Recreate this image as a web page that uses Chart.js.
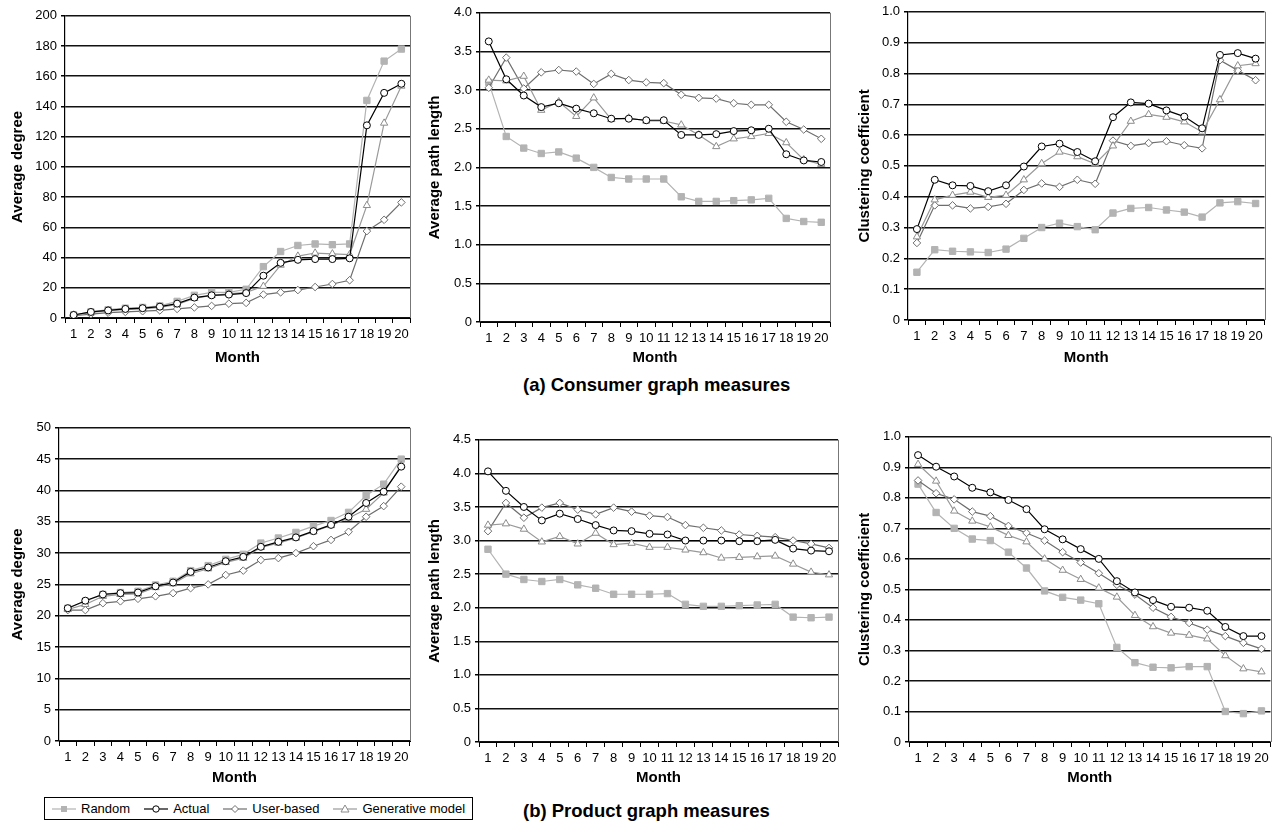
<!DOCTYPE html>
<html>
<head>
<meta charset="utf-8">
<title>Graph measures</title>
<script src="https://cdn.jsdelivr.net/npm/chart.js@4.4.1/dist/chart.umd.min.js"></script>
<style>
    html, body { margin: 0; padding: 0; background: #fff; }
    body { width: 1276px; height: 821px; position: relative; overflow: hidden; font-family: "Liberation Sans", Arial, sans-serif; }
    .panel { position: absolute; }
    .caption { position: absolute; font-weight: bold; font-size: 18.5px; line-height: 22px; color: #000; white-space: nowrap; }
    #legend { position: absolute; left: 44px; top: 797px; width: 429px; height: 23px; box-sizing: border-box;
              border: 1px solid #000; display: flex; align-items: center; padding-left: 7px; font-size: 13px; color: #000;
              white-space: nowrap; }
    #legend .item { display: flex; align-items: center; margin-right: 14px; flex-shrink: 0; white-space: nowrap; }
    #legend svg { margin-right: 5px; flex-shrink: 0; }
</style>
</head>
<body>

<div class="caption" style="left:523px; top:374px;">(a) Consumer graph measures</div>
<div class="caption" style="left:523px; top:800px;">(b) Product graph measures</div>

<div id="legend">
    <div class="item"><svg width="24" height="12"><line x1="0" y1="6" x2="24" y2="6" stroke="#b3b3b3" stroke-width="1.2"/><rect x="9" y="3" width="6" height="6" fill="#b3b3b3"/></svg>Random</div>
    <div class="item"><svg width="24" height="12"><line x1="0" y1="6" x2="24" y2="6" stroke="#000" stroke-width="1.2"/><circle cx="12" cy="6" r="3.2" fill="#fff" stroke="#000"/></svg>Actual</div>
    <div class="item"><svg width="24" height="12"><line x1="0" y1="6" x2="24" y2="6" stroke="#6e6e6e" stroke-width="1.2"/><polygon points="12,2.5 15.5,6 12,9.5 8.5,6" fill="#fff" stroke="#6e6e6e"/></svg>User-based</div>
    <div class="item"><svg width="24" height="12"><line x1="0" y1="6" x2="24" y2="6" stroke="#999" stroke-width="1.2"/><polygon points="12,2 16,9 8,9" fill="#fff" stroke="#8c8c8c"/></svg>Generative model</div>
</div>

<div class="panel" id="p1"><canvas id="c1"></canvas></div>
<div class="panel" id="p2"><canvas id="c2"></canvas></div>
<div class="panel" id="p3"><canvas id="c3"></canvas></div>
<div class="panel" id="p4"><canvas id="c4"></canvas></div>
<div class="panel" id="p5"><canvas id="c5"></canvas></div>
<div class="panel" id="p6"><canvas id="c6"></canvas></div>

<script>
const months = ['1', '2', '3', '4', '5', '6', '7', '8', '9', '10', '11', '12', '13', '14', '15', '16', '17', '18', '19', '20'];
const seriesNames = ['Random', 'Actual', 'User-based', 'Generative model'];

// (a) consumer graph
const consumerDegreeRandom = [2, 4, 5.5, 6.5, 7, 8, 11, 15, 17, 17, 19, 34, 44, 48, 49, 48.5, 49, 144, 170, 178];
const consumerDegreeActual = [2, 4, 5, 6, 6.5, 7.5, 9.5, 13.5, 15, 15.5, 16.5, 28, 36.5, 38.5, 39, 39, 39.5, 127.5, 149, 155];
const consumerDegreeUser = [1.5, 2.5, 3.5, 4, 4.5, 5, 6, 7, 8, 9.5, 10, 15.5, 17, 18.5, 20.5, 22.5, 25, 57.5, 65, 76.5];
const consumerDegreeGen = [2, 3.5, 5, 5.5, 6, 7, 9, 13, 15, 16, 17, 21, 35, 41, 43, 42.5, 42, 74.5, 129, 153.5];

const consumerPathRandom = [3.1, 2.4, 2.25, 2.18, 2.2, 2.12, 2.0, 1.87, 1.85, 1.85, 1.85, 1.62, 1.56, 1.56, 1.57, 1.58, 1.6, 1.34, 1.3, 1.29];
const consumerPathActual = [3.63, 3.14, 2.93, 2.78, 2.83, 2.76, 2.7, 2.63, 2.63, 2.61, 2.61, 2.42, 2.42, 2.43, 2.47, 2.48, 2.5, 2.17, 2.09, 2.07];
const consumerPathUser = [3.03, 3.42, 3.02, 3.23, 3.26, 3.24, 3.08, 3.21, 3.13, 3.1, 3.09, 2.94, 2.9, 2.89, 2.83, 2.81, 2.81, 2.59, 2.49, 2.37];
const consumerPathGen = [3.13, 3.12, 3.18, 2.74, 2.85, 2.66, 2.9, 2.62, 2.64, 2.6, 2.6, 2.55, 2.42, 2.27, 2.37, 2.4, 2.44, 2.32, 2.1, 2.04];

const consumerClustRandom = [0.155, 0.228, 0.223, 0.221, 0.219, 0.23, 0.265, 0.3, 0.314, 0.303, 0.293, 0.347, 0.362, 0.365, 0.357, 0.35, 0.334, 0.38, 0.384, 0.378];
const consumerClustActual = [0.295, 0.455, 0.437, 0.435, 0.418, 0.437, 0.498, 0.563, 0.572, 0.545, 0.515, 0.658, 0.706, 0.702, 0.68, 0.66, 0.622, 0.86, 0.866, 0.848];
const consumerClustUser = [0.25, 0.372, 0.372, 0.362, 0.367, 0.377, 0.422, 0.443, 0.432, 0.455, 0.442, 0.582, 0.565, 0.574, 0.58, 0.567, 0.557, 0.843, 0.81, 0.778];
const consumerClustGen = [0.27, 0.39, 0.405, 0.415, 0.398, 0.405, 0.455, 0.508, 0.545, 0.53, 0.507, 0.565, 0.645, 0.667, 0.658, 0.643, 0.61, 0.715, 0.825, 0.832];

// (b) product graph
const productDegreeRandom = [21.2, 22.3, 23.4, 23.7, 23.9, 24.9, 25.5, 27.2, 28, 29, 29.8, 31.6, 32.4, 33.3, 34.3, 35.2, 36.5, 39.2, 41, 45];
const productDegreeActual = [21.2, 22.4, 23.4, 23.6, 23.7, 24.7, 25.3, 27, 27.7, 28.7, 29.4, 31, 31.8, 32.5, 33.5, 34.5, 35.8, 38, 39.8, 43.8];
const productDegreeUser = [20.9, 20.9, 22, 22.3, 22.7, 23.1, 23.6, 24.4, 25, 26.5, 27.2, 28.9, 29.2, 30, 31.1, 32.1, 33.4, 35.8, 37.5, 40.6];
const productDegreeGen = [21, 21.8, 23.1, 23.4, 23.5, 24.5, 25.1, 26.7, 27.5, 28.5, 29.2, 30.9, 31.6, 32.4, 33.4, 34.4, 35.6, 37, 39.6, 44];

const productPathRandom = [2.87, 2.5, 2.42, 2.39, 2.42, 2.34, 2.29, 2.2, 2.2, 2.2, 2.21, 2.05, 2.02, 2.02, 2.03, 2.04, 2.05, 1.86, 1.85, 1.86];
const productPathActual = [4.03, 3.74, 3.5, 3.3, 3.4, 3.32, 3.23, 3.15, 3.14, 3.1, 3.09, 3.0, 3.0, 3.0, 2.99, 2.99, 3.01, 2.88, 2.85, 2.84];
const productPathUser = [3.14, 3.56, 3.34, 3.49, 3.56, 3.46, 3.39, 3.49, 3.43, 3.37, 3.35, 3.23, 3.19, 3.15, 3.09, 3.07, 3.05, 3.0, 2.95, 2.89];
const productPathGen = [3.23, 3.25, 3.17, 2.98, 3.06, 2.95, 3.11, 2.94, 2.96, 2.9, 2.9, 2.86, 2.82, 2.74, 2.75, 2.76, 2.77, 2.65, 2.53, 2.49];

const productClustRandom = [0.845, 0.752, 0.7, 0.665, 0.66, 0.622, 0.57, 0.495, 0.474, 0.465, 0.453, 0.31, 0.26, 0.245, 0.243, 0.247, 0.247, 0.1, 0.093, 0.102];
const productClustActual = [0.94, 0.902, 0.87, 0.833, 0.818, 0.793, 0.763, 0.697, 0.664, 0.632, 0.6, 0.527, 0.49, 0.465, 0.443, 0.44, 0.43, 0.377, 0.347, 0.347];
const productClustUser = [0.857, 0.815, 0.795, 0.755, 0.74, 0.708, 0.685, 0.66, 0.622, 0.588, 0.553, 0.515, 0.483, 0.44, 0.41, 0.39, 0.368, 0.347, 0.325, 0.305];
const productClustGen = [0.91, 0.855, 0.757, 0.724, 0.705, 0.677, 0.656, 0.6, 0.563, 0.533, 0.505, 0.475, 0.415, 0.378, 0.357, 0.35, 0.338, 0.283, 0.24, 0.23];

const FONT = '"Liberation Sans", Arial, sans-serif';

// right edge of the plot frame
const frameRight = {
    id: 'frameRight',
    afterDraw(chart) {
        const a = chart.chartArea;
        const c = chart.ctx;
        c.save();
        c.strokeStyle = '#777';
        c.lineWidth = 1;
        c.beginPath();
        c.moveTo(Math.round(a.right) + 0.5, a.top);
        c.lineTo(Math.round(a.right) + 0.5, a.bottom);
        c.stroke();
        c.restore();
    }
};

function series(random, actual, user, gen) {
    const common = { borderWidth: 1.2, pointBorderWidth: 1, tension: 0, fill: false };
    return [
        Object.assign({}, common, { label: seriesNames[0], data: random, borderColor: '#b3b3b3', pointStyle: 'rect',
            pointRadius: 4.5, pointBackgroundColor: '#b3b3b3', pointBorderColor: '#b3b3b3', order: 3 }),
        Object.assign({}, common, { label: seriesNames[1], data: actual, borderColor: '#000', pointStyle: 'circle',
            pointRadius: 3.5, pointBackgroundColor: '#fff', pointBorderColor: '#000', order: 0 }),
        Object.assign({}, common, { label: seriesNames[2], data: user, borderColor: '#6e6e6e', pointStyle: 'rectRot',
            pointRadius: 3.8, pointBackgroundColor: '#fff', pointBorderColor: '#6e6e6e', order: 2 }),
        Object.assign({}, common, { label: seriesNames[3], data: gen, borderColor: '#999', pointStyle: 'triangle',
            pointRadius: 4.2, pointBackgroundColor: '#fff', pointBorderColor: '#8c8c8c', order: 1 })
    ];
}

function makePanel(n, box, yTitle, yMax, yStep, decimals, datasets) {
    const padTop = 10;
    const padRight = box.padRight || 6;
    const left = box.titleX - 9;
    const top = box.top - padTop;
    const yWidth = box.left - left;
    const xHeight = box.titleY + 9 - box.bottom;
    const div = document.getElementById('p' + n);
    div.style.left = left + 'px';
    div.style.top = top + 'px';
    div.style.width = (box.right + padRight - left) + 'px';
    div.style.height = (box.bottom + xHeight - top) + 'px';

    new Chart(document.getElementById('c' + n), {
        type: 'line',
        data: { labels: months, datasets: datasets },
        options: {
            responsive: true,
            maintainAspectRatio: false,
            animation: false,
            layout: { padding: { top: padTop, right: padRight, left: 0, bottom: 0 } },
            plugins: { legend: { display: false }, tooltip: { enabled: false } },
            scales: {
                x: {
                    offset: true,
                    grid: { offset: true, drawOnChartArea: false, drawTicks: true, tickLength: 5, color: '#000', lineWidth: 1 },
                    border: { display: true, color: '#000', width: 1 },
                    ticks: { autoSkip: false, maxRotation: 0, minRotation: 0, padding: 4, color: '#000',
                              font: { family: FONT, size: 13 } },
                    title: { display: true, text: 'Month', color: '#000', padding: 0,
                             font: { family: FONT, size: 15, weight: 'bold' } },
                    afterFit: function (scale) { scale.height = xHeight; }
                },
                y: {
                    min: 0,
                    max: yMax,
                    grid: { color: '#111', lineWidth: 1.5, drawTicks: true, tickLength: 4, tickColor: '#000' },
                    border: { display: true, color: '#000', width: 1.2 },
                    ticks: {
                        stepSize: yStep, padding: 4, color: '#000',
                        font: { family: FONT, size: 13 },
                        callback: function (v) { return v === 0 ? '0' : Number(v).toFixed(decimals); }
                    },
                    title: { display: true, text: yTitle, color: '#000', padding: 0,
                             font: { family: FONT, size: 15, weight: 'bold' } },
                    afterFit: function (scale) { scale.width = yWidth; }
                }
            }
        },
        plugins: [frameRight]
    });
}

makePanel(1, { left: 65, right: 410, top: 14, bottom: 318, titleX: 18, titleY: 358 },
    'Average degree', 200, 20, 0,
    series(consumerDegreeRandom, consumerDegreeActual, consumerDegreeUser, consumerDegreeGen));
makePanel(2, { left: 480, right: 830, top: 11, bottom: 322, titleX: 435, titleY: 358 },
    'Average path length', 4, 0.5, 1,
    series(consumerPathRandom, consumerPathActual, consumerPathUser, consumerPathGen));
makePanel(3, { left: 908, right: 1265, top: 10, bottom: 320, titleX: 865, titleY: 358, padRight: 5 },
    'Clustering coefficient', 1, 0.1, 1,
    series(consumerClustRandom, consumerClustActual, consumerClustUser, consumerClustGen));
makePanel(4, { left: 59, right: 410, top: 426, bottom: 741, titleX: 18, titleY: 778 },
    'Average degree', 50, 5, 0,
    series(productDegreeRandom, productDegreeActual, productDegreeUser, productDegreeGen));
makePanel(5, { left: 479, right: 838, top: 438, bottom: 742, titleX: 435, titleY: 778 },
    'Average path length', 4.5, 0.5, 1,
    series(productPathRandom, productPathActual, productPathUser, productPathGen));
makePanel(6, { left: 909, right: 1273, top: 435, bottom: 742, titleX: 865, titleY: 778, padRight: 3 },
    'Clustering coefficient', 1, 0.1, 1,
    series(productClustRandom, productClustActual, productClustUser, productClustGen));
</script>
</body>
</html>
